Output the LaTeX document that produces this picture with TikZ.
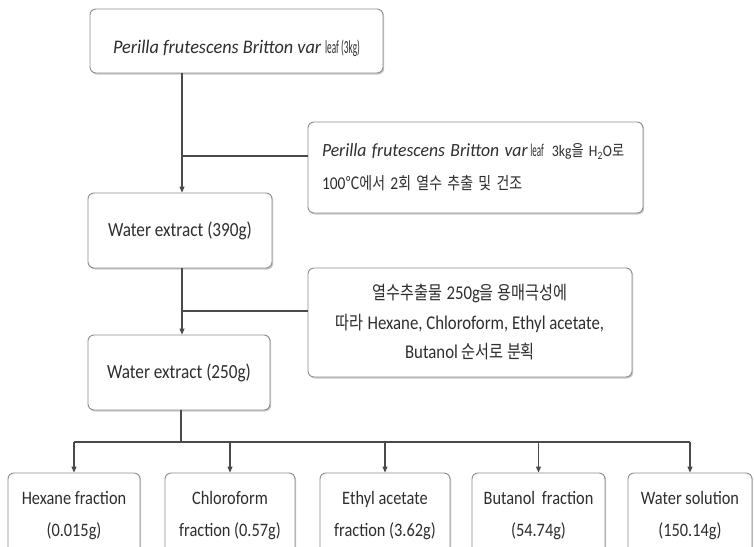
\documentclass[tikz,border=0pt]{standalone}
\usepackage{fontspec}
\setmainfont{Carlito}[FakeStretch=0.86]
\newfontfamily\itf{Carlito}[FakeStretch=0.95]
\newfontfamily\narrowf{Carlito}[FakeStretch=0.5]
\newfontfamily\kor{Noto Sans CJK KR}[FakeStretch=0.82]
\usetikzlibrary{arrows.meta,shadows}
\definecolor{linec}{HTML}{4A4A4A}
\definecolor{boxc}{HTML}{8C8C8C}
\definecolor{txtc}{HTML}{2E2E2E}
\begin{document}
\begin{tikzpicture}[x=1pt,y=-1pt,
  box/.style={draw=boxc,line width=0.9pt,rounded corners=6pt,fill=white,
    drop shadow={shadow xshift=1.2pt,shadow yshift=-1.5pt,fill=black!35,opacity=0.6},
    align=center,text=txtc,font=\fontsize{20}{22}\selectfont,inner sep=2pt},
  fbox/.style={box,minimum height=86pt,font=\fontsize{19}{32}\selectfont},
  conn/.style={draw=linec,line width=1.3pt},
  arr/.style={draw=linec,line width=1.1pt,-{Triangle[length=6pt,width=5pt]}}]
\useasboundingbox (0,0) rectangle (754,546);
\fill[white] (0,0) rectangle (754,546);
\node[box,minimum width=293pt,minimum height=64pt,text height=25pt,text depth=0pt] (top) at (236.5,41)
  {{\itf\itshape\fontsize{19.2}{22}\selectfont Perilla frutescens Britton var} {\narrowf\fontsize{18.5}{15}\selectfont leaf (3kg)}};
\node[box,minimum height=91pt,text width=335pt,inner xsep=0pt,align=left,font=\fontsize{16}{33}\selectfont] (n1) at (475.5,167.5)
  {\hspace*{14pt}\mbox{{\itf\itshape\fontsize{18.6}{22}\selectfont Perilla frutescens Britton var}\,{\narrowf\fontsize{18}{15}\selectfont leaf}\hspace{8pt}3kg{\kor\fontsize{16}{15}\selectfont 을} H\textsubscript{2}O{\kor\fontsize{16}{15}\selectfont 로}}\\
   \hspace*{14pt}{\fontsize{18}{33}\selectfont 100}{\kor\fontsize{17}{15}\selectfont ℃에서} {\fontsize{18}{33}\selectfont 2}{\kor\fontsize{17}{15}\selectfont 회 열수 추출 및 건조}};
\node[box,minimum width=184pt,minimum height=75pt] (we1) at (180,230.5) {Water extract (390g)};
\node[box,minimum width=324pt,minimum height=109pt,font=\fontsize{19.5}{29.5}\selectfont] (n2) at (470,322.5)
  {{\kor\fontsize{18.5}{15}\selectfont 열수추출물} 250g{\kor\fontsize{18.5}{15}\selectfont 을 용매극성에}\\
   {\kor\fontsize{18.5}{15}\selectfont 따라} Hexane, Chloroform, Ethyl acetate,\\
   Butanol {\kor\fontsize{18.5}{15}\selectfont 순서로 분획}};
\node[box,minimum width=182pt,minimum height=75pt] (we2) at (179,372.5) {Water extract (250g)};
\node[fbox,minimum width=132pt] (f1) at (74,516) {Hexane fraction\\(0.015g)};
\node[fbox,minimum width=130pt] (f2) at (230,516) {Chloroform\\fraction (0.57g)};
\node[fbox,minimum width=130pt] (f3) at (385,516) {Ethyl acetate\\fraction (3.62g)};
\node[fbox,minimum width=133pt] (f4) at (538.5,516) {Butanol\, fraction\\(54.74g)};
\node[fbox,minimum width=124pt] (f5) at (690,516) {Water solution\\(150.14g)};
\coordinate (j1) at (182,156);
\coordinate (j2) at (182,311);
\coordinate (j3) at (181,442);
\draw[arr] (top.south -| j1) -- (we1.north -| j1);
\draw[conn] (n1.west |- j1) -- (j1);
\draw[arr] (we1.south -| j2) -- (we2.north -| j2);
\draw[conn] (n2.west |- j2) -- (j2);
\draw[conn] (we2.south -| j3) -- (j3);
\draw[conn] (j3 -| f1) -- (j3 -| f5);
\foreach \f in {f1,f2,f3,f4,f5} \draw[arr] (j3 -| \f) -- (\f.north);
\end{tikzpicture}
\end{document}
